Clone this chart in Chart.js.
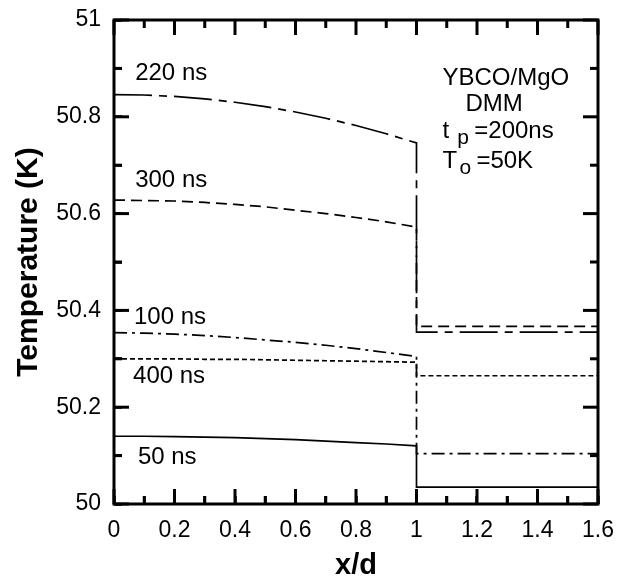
<!DOCTYPE html>
<html>
<head>
<meta charset="utf-8">
<title>Temperature profile</title>
<script src="https://cdn.jsdelivr.net/npm/chart.js@4.4.0/dist/chart.umd.min.js"></script>
<style>
  html, body { margin: 0; padding: 0; background: #fff; }
  canvas { display: block; }
</style>
</head>
<body>
<canvas id="chart" width="618" height="581"></canvas>
<script>
// positions across the film (x/d), the substrate side is a single step
const xFilm = [0, 0.1, 0.2, 0.3, 0.4, 0.5, 0.6, 0.7, 0.8, 0.9, 1.0];
const xSubstrate = [1.0, 1.6];

// temperature (K) in the film and in the substrate for each time
const t220Film = [50.846, 50.845, 50.842, 50.837, 50.830, 50.821, 50.810, 50.797, 50.782, 50.765, 50.746];
const t220Sub = 50.355;
const t300Film = [50.628, 50.627, 50.626, 50.623, 50.619, 50.614, 50.607, 50.600, 50.592, 50.583, 50.572];
const t300Sub = 50.367;
const t100Film = [50.354, 50.353, 50.351, 50.348, 50.344, 50.339, 50.334, 50.328, 50.321, 50.313, 50.305];
const t100Sub = 50.104;
const t400Film = [50.300, 50.300, 50.300, 50.299, 50.299, 50.298, 50.297, 50.296, 50.295, 50.294, 50.293];
const t400Sub = 50.265;
const t50Film = [50.140, 50.140, 50.139, 50.138, 50.137, 50.135, 50.133, 50.130, 50.127, 50.124, 50.120];
const t50Sub = 50.035;

const seriesNames = ['220 ns', '300 ns', '100 ns', '400 ns', '50 ns'];

// labelled ticks
const xTickValues = [0, 0.2, 0.4, 0.6, 0.8, 1.0, 1.2, 1.4, 1.6];
const xTickLabels = ['0', '0.2', '0.4', '0.6', '0.8', '1', '1.2', '1.4', '1.6'];
const yTickValues = [50, 50.2, 50.4, 50.6, 50.8, 51];
const yTickLabels = ['50', '50.2', '50.4', '50.6', '50.8', '51'];

const FONT = '"Liberation Sans", Arial, Helvetica, sans-serif';
const TICK_IN = 8;   // length of the library tick marks, drawn into the plot

function profile(film, sub) {
    const pts = xFilm.map((x, i) => ({ x: x, y: film[i] }));
    xSubstrate.forEach(x => pts.push({ x: x, y: sub }));
    return pts;
}

function lineSet(name, film, sub, dash) {
    return {
        label: name,
        data: profile(film, sub),
        showLine: true,
        borderColor: '#000',
        borderWidth: 1.7,
        borderDash: dash,
        pointRadius: 0,
        tension: 0
    };
}

function tickLabel(values, labels) {
    return (v) => {
        const i = values.findIndex(t => Math.abs(t - v) < 1e-6);
        return i >= 0 ? labels[i] : '';
    };
}

// text placed in data units
const curveLabels = [
    { text: seriesNames[0], x: 0.07, y: 50.890 },
    { text: seriesNames[1], x: 0.07, y: 50.669 },
    { text: seriesNames[2], x: 0.066, y: 50.386 },
    { text: seriesNames[3], x: 0.063, y: 50.264 },
    { text: seriesNames[4], x: 0.079, y: 50.097 }
];

// inward tick marks on all four sides, longer on the labelled values
function tickMarks(ctx, scale, values, horizontal, a) {
    const lo = values[0];
    const n = Math.round((values[values.length - 1] - lo) * 10);
    const w = 3;
    for (let i = 0; i <= n; i++) {
        const p = scale.getPixelForValue(lo + i / 10);
        const len = i % 2 === 0 ? 15 : 8;
        if (horizontal) {
            ctx.fillRect(p - w / 2, a.bottom - len, w, len);
            ctx.fillRect(p - w / 2, a.top, w, len);
        } else {
            ctx.fillRect(a.left, p - w / 2, len, w);
            ctx.fillRect(a.right - len, p - w / 2, len, w);
        }
    }
}

// frame, ticks and the text on the plot
const framePlugin = {
    id: 'frame',
    afterDraw(chart) {
        const { ctx, chartArea: a, scales } = chart;
        ctx.save();
        ctx.setLineDash([]);
        ctx.strokeStyle = '#000';
        ctx.fillStyle = '#000';
        ctx.lineWidth = 3;
        ctx.strokeRect(a.left, a.top, a.right - a.left, a.bottom - a.top);

        tickMarks(ctx, scales.x, xTickValues, true, a);
        tickMarks(ctx, scales.y, yTickValues, false, a);

        ctx.textAlign = 'left';
        ctx.textBaseline = 'middle';
        ctx.font = '24px ' + FONT;
        curveLabels.forEach(l => {
            ctx.fillText(l.text, scales.x.getPixelForValue(l.x), scales.y.getPixelForValue(l.y));
        });

        // parameters block
        const X = v => scales.x.getPixelForValue(v);
        const Y = v => scales.y.getPixelForValue(v);
        ctx.textBaseline = 'alphabetic';
        ctx.fillText('YBCO/MgO', X(1.086), Y(50.866));
        ctx.fillText('DMM', X(1.162), Y(50.812));
        ctx.fillText('t', X(1.086), Y(50.756));
        ctx.fillText('=200ns', X(1.191), Y(50.756));
        ctx.fillText('T', X(1.086), Y(50.694));
        ctx.fillText('=50K', X(1.198), Y(50.694));
        ctx.font = '21px ' + FONT;
        ctx.fillText('p', X(1.135), Y(50.744));
        ctx.fillText('o', X(1.142), Y(50.682));
        ctx.restore();
    }
};

// fixed axis boxes, no extra room for edge labels
function fixBox(s, size) {
    if (s.isHorizontal()) s.height = size; else s.width = size;
    s.paddingTop = 0;
    s.paddingBottom = 0;
    s.paddingLeft = 0;
    s.paddingRight = 0;
}

// library tick marks, pointing into the plot (negative length)
const inwardGrid = {
    display: true,
    drawOnChartArea: false,
    drawTicks: true,
    tickLength: -TICK_IN,
    tickColor: '#000',
    tickWidth: 2.5
};

new Chart(document.getElementById('chart'), {
    type: 'scatter',
    data: {
        datasets: [
            lineSet(seriesNames[0], t220Film, t220Sub, [38, 7, 8, 7]),
            lineSet(seriesNames[1], t300Film, t300Sub, [11, 6]),
            lineSet(seriesNames[2], t100Film, t100Sub, [13, 5, 3, 5]),
            lineSet(seriesNames[3], t400Film, t400Sub, [5, 3]),
            lineSet(seriesNames[4], t50Film, t50Sub, [])
        ]
    },
    options: {
        responsive: false,
        animation: false,
        devicePixelRatio: 1,
        layout: { padding: { left: 0, right: 20, top: 20, bottom: 0 } },
        plugins: {
            legend: { display: false },
            tooltip: { enabled: false }
        },
        scales: {
            x: {
                type: 'linear',
                min: 0,
                max: 1.6,
                grid: inwardGrid,
                border: { display: false },
                ticks: {
                    stepSize: 0.1,
                    autoSkip: false,
                    maxRotation: 0,
                    padding: 13 + TICK_IN,
                    color: '#000',
                    font: { family: FONT, size: 23 },
                    callback: tickLabel(xTickValues, xTickLabels)
                },
                title: {
                    display: true,
                    text: 'x/d',
                    color: '#000',
                    font: { family: FONT, size: 29, weight: 'bold', lineHeight: 1 },
                    padding: { top: 0, bottom: 1 }
                },
                afterFit: (s) => fixBox(s, 77)
            },
            y: {
                type: 'linear',
                min: 50,
                max: 51,
                grid: inwardGrid,
                border: { display: false },
                ticks: {
                    stepSize: 0.1,
                    autoSkip: false,
                    padding: 13 + TICK_IN,
                    color: '#000',
                    font: { family: FONT, size: 23 },
                    callback: tickLabel(yTickValues, yTickLabels)
                },
                title: {
                    display: true,
                    text: 'Temperature (K)',
                    color: '#000',
                    font: { family: FONT, size: 30, weight: 'bold', lineHeight: 1 },
                    padding: { top: 14, bottom: 0 }
                },
                afterFit: (s) => fixBox(s, 114)
            }
        }
    },
    plugins: [framePlugin]
});
</script>
</body>
</html>
